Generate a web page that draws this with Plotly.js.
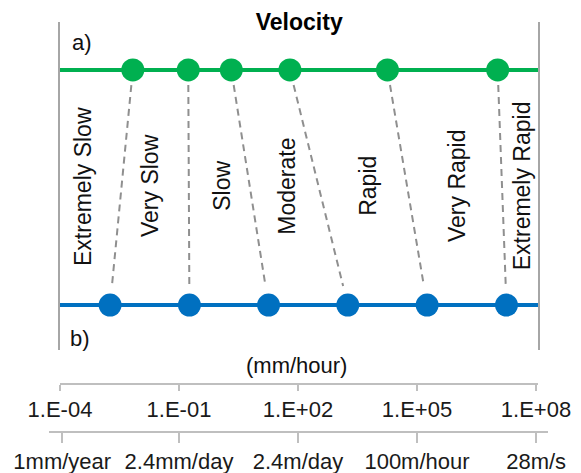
<!DOCTYPE html>
<html>
<head>
<meta charset="utf-8">
<script src="https://cdn.plot.ly/plotly-3.0.1.min.js"></script>
<style>html,body{margin:0;padding:0;background:#fff;}#chart{width:581px;height:473px;}</style>
</head>
<body>
<div id="chart"></div>
<script>
// Velocity classes
const classes = ["Extremely Slow", "Very Slow", "Slow", "Moderate", "Rapid", "Very Rapid", "Extremely Rapid"];
// class boundaries in mm/hour: a) upper scale, b) lower scale
const boundaryA = [0.00685, 0.171, 2.08, 62.5, 18000, 1.08e7];
const boundaryB = [0.00183, 0.183, 18.1, 1800, 180000, 1.8e7];
// where each class label sits (mm/hour)
const labelAt = [3.8e-4, 0.0186, 1.2, 52, 5750, 1.02e6, 4.5e7];
// axis ticks
const mmTickVals = [1e-4, 1e-1, 1e2, 1e5, 1e8];
const mmTickText = ["1.E-04", "1.E-01", "1.E+02", "1.E+05", "1.E+08"];
const speedTickVals = [1.14e-4, 0.1, 100, 1e5, 1.008e8];
const speedTickText = ["1mm/year", "2.4mm/day", "2.4m/day", "100m/hour", "28m/s"];

const FONT = "Liberation Sans, Arial, sans-serif";
const FS = 22;
const GREEN = "#00b050", BLUE = "#0070c0";
const yA = 0.8537, yB = 0.137;

const traces = [];
// horizontal lines
traces.push({x: [mmTickVals[0], Math.pow(10, 8.05)], y: [yA, yA], mode: "lines",
  line: {color: GREEN, width: 4}, hoverinfo: "skip", showlegend: false, cliponaxis: false});
traces.push({x: [mmTickVals[0], Math.pow(10, 8.05)], y: [yB, yB], mode: "lines",
  line: {color: BLUE, width: 4}, hoverinfo: "skip", showlegend: false, cliponaxis: false});
// dashed connectors
const tTop = 0.064, tBot = 0.919;
boundaryA.forEach((a, i) => {
  const la = Math.log10(a), lb = Math.log10(boundaryB[i]);
  traces.push({
    x: [Math.pow(10, la + tTop * (lb - la)), Math.pow(10, la + tBot * (lb - la))],
    y: [yA + tTop * (yB - yA), yA + tBot * (yB - yA)],
    mode: "lines", line: {color: "#8f8f8f", width: 2, dash: "7px,5px"},
    hoverinfo: "skip", showlegend: false
  });
});
// dots
traces.push({x: boundaryA, y: boundaryA.map(() => yA), mode: "markers",
  marker: {color: GREEN, size: 23}, hoverinfo: "skip", showlegend: false, cliponaxis: false});
traces.push({x: boundaryB, y: boundaryB.map(() => yB), mode: "markers",
  marker: {color: BLUE, size: 23}, hoverinfo: "skip", showlegend: false, cliponaxis: false});
// dummy trace for second axis
traces.push({x: speedTickVals, y: speedTickVals.map(() => null), xaxis: "x2", yaxis: "y",
  mode: "markers", hoverinfo: "skip", showlegend: false});

const annotations = classes.map((c, i) => ({
  x: Math.log10(labelAt[i]), y: 0.5, xref: "x", yref: "y", text: c, textangle: -90,
  showarrow: false, font: {family: FONT, size: 23, color: "#111"}, xanchor: "center", yanchor: "middle"
}));
annotations.push({x: 0.066, y: 0.951, xref: "paper", yref: "paper", text: "a)", showarrow: false,
  xanchor: "center", yanchor: "middle", font: {family: FONT, size: FS, color: "#111"}});
annotations.push({x: 0.062, y: 0.227, xref: "paper", yref: "paper", text: "b)", showarrow: false,
  xanchor: "center", yanchor: "middle", font: {family: FONT, size: FS, color: "#111"}});
annotations.push({x: 0.495, y: 0.161, xref: "paper", yref: "paper", text: "(mm/hour)", showarrow: false,
  xanchor: "center", yanchor: "middle", font: {family: FONT, size: FS, color: "#111"}});

const layout = {
  width: 581, height: 473,
  margin: {l: 49, r: 33, t: 22, b: 41, pad: 0},
  paper_bgcolor: "#fff", plot_bgcolor: "rgba(0,0,0,0)",
  title: {text: "<b>Velocity</b>", x: 0.515, xref: "container", xanchor: "center",
    y: 1 - 22 / 473, yref: "container", yanchor: "middle",
    font: {family: FONT, size: 23, color: "#000"}},
  xaxis: {type: "log", domain: [0.02204, 0.97996], range: [-4, 8.05], anchor: "free", position: 0.117,
    showline: true, linecolor: "#bfbfbf", linewidth: 2, showgrid: false, zeroline: false,
    tickmode: "array", tickvals: mmTickVals, ticktext: mmTickText,
    ticks: "outside", ticklen: 6, tickwidth: 2, tickcolor: "#bfbfbf", automargin: false,
    tickfont: {family: FONT, size: FS, color: "#1a1a1a"}},
  xaxis2: {type: "log", domain: [0, 1], range: [-4.277, 8.302], anchor: "free", position: 0,
    showline: true, linecolor: "#bfbfbf", linewidth: 2, showgrid: false, zeroline: false,
    tickmode: "array", tickvals: speedTickVals, ticktext: speedTickText,
    ticks: "outside", ticklen: 10, tickwidth: 2, tickcolor: "#bfbfbf", automargin: false,
    tickfont: {family: FONT, size: FS, color: "#1a1a1a"}},
  yaxis: {domain: [0.2, 1], range: [0, 1], showline: true, mirror: true, linecolor: "#a6a6a6", linewidth: 2,
    showgrid: false, zeroline: false, showticklabels: false, ticks: "", automargin: false},
  annotations: annotations,
  showlegend: false
};

Plotly.newPlot("chart", traces, layout, {displayModeBar: false, staticPlot: true});
</script>
</body>
</html>
